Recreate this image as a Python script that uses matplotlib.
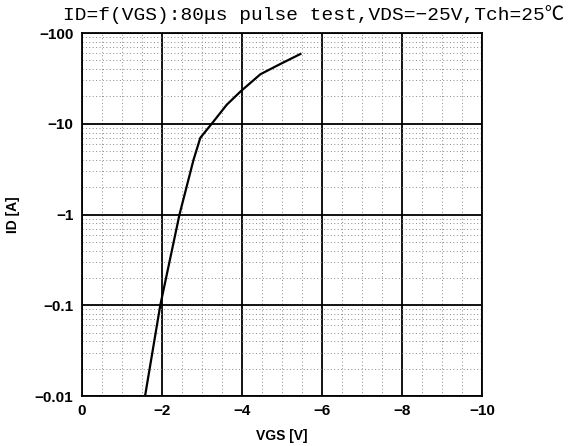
import numpy as np
import matplotlib.pyplot as plt
from matplotlib.ticker import FixedLocator, NullFormatter

# values (VGS in V, ID in A)
vgs = [-1.58, -1.96, -2.44, -2.79, -2.96, -3.29, -3.62, -3.96, -4.46, -4.96, -5.46]
id_a = [-0.01, -0.1, -1.0, -4.0, -7.0, -10.6, -16.2, -22.6, -35.1, -45.6, -58.7]

x_ticks = [0, -2, -4, -6, -8, -10]
x_labels = ['0', '\u22122', '\u22124', '\u22126', '\u22128', '\u221210']
y_ticks = [0.01, 0.1, 1, 10, 100]
y_labels = ['\u22120.01', '\u22120.1', '\u22121', '\u221210', '\u2212100']

title = 'ID=f(VGS):80\u03bcs pulse test,VDS=\u221225V,Tch=25\u2103'

plt.rcParams['font.family'] = ['Liberation Sans', 'DejaVu Sans']

fig = plt.figure(figsize=(5.72, 4.46), dpi=100)
ax = fig.add_axes([0.143, 0.112, 0.700, 0.814])

ax.plot(vgs, -np.array(id_a), color='black', lw=1.6)

ax.set_yscale('log')
ax.set_xlim(0, -10)
ax.set_ylim(0.01, 100)

ax.xaxis.set_major_locator(FixedLocator(x_ticks))
ax.set_xticklabels(x_labels)
ax.xaxis.set_minor_locator(FixedLocator(np.arange(-0.5, -10, -0.5)))
ax.yaxis.set_major_locator(FixedLocator(y_ticks))
ax.set_yticklabels(y_labels)
minor_y = [m * 10.0 ** e for e in range(-2, 2) for m in range(2, 10)]
ax.yaxis.set_minor_locator(FixedLocator(minor_y))
ax.yaxis.set_minor_formatter(NullFormatter())

ax.grid(which='major', color='black', lw=1.3, ls='-')
ax.grid(which='minor', color='#8a8a8a', lw=0.7, ls=(0, (1, 2.5)))
ax.tick_params(which='both', length=0, labelsize=11, pad=6)
for lab in ax.get_xticklabels() + ax.get_yticklabels():
    lab.set_fontweight('bold')
for sp in ax.spines.values():
    sp.set_linewidth(1.3)

ax.set_xlabel('VGS [V]', fontsize=10, fontweight='bold', labelpad=8)
ax.set_ylabel('ID [A]', fontsize=10, fontweight='bold')
ax.yaxis.set_label_coords(-0.155, 0.5)

fig.text(0.549, 0.968, title, ha='center', va='center', fontsize=14,
         family=['Liberation Mono', 'Noto Sans CJK JP'])

fig.savefig('out.png', dpi=100)
